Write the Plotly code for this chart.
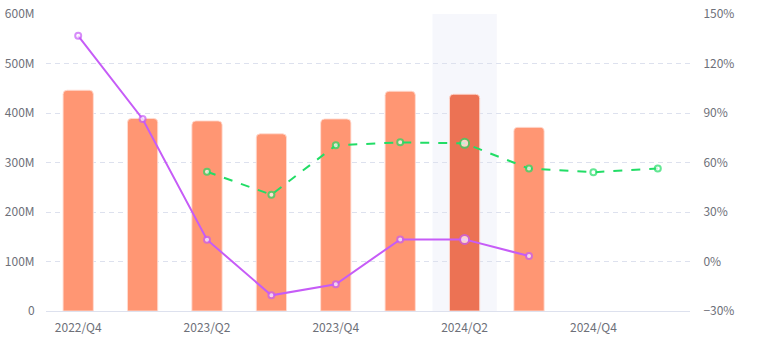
import plotly.graph_objects as go

# Quarterly revenue with year-over-year and quarter-over-quarter growth
quarters = ["2022/Q4", "2023/Q1", "2023/Q2", "2023/Q3", "2023/Q4",
            "2024/Q1", "2024/Q2", "2024/Q3", "2024/Q4", "2025/Q1"]
revenue = [446e6, 389e6, 384e6, 358e6, 388e6, 444e6, 438e6, 371e6, None, None]
growth_purple = [136.8, 86.4, 13.2, -20.5, -13.8, 13.4, 13.4, 3.3, None, None]
growth_green = [None, None, 54.4, 40.5, 70.4, 72.2, 71.6, 56.3, 54.1, 56.3]
tick_labels = ["2022/Q4", "2023/Q2", "2023/Q4", "2024/Q2", "2024/Q4"]
focus = "2024/Q2"

focus_idx = quarters.index(focus)
bar_base = "#FF9673"
bar_focus = "#EC7254"
purple = "#C65CF7"
green = "#22DD66"
axis_text = "#6E7079"
grid = "#DDE1EE"
font_family = "Noto Sans CJK SC, Noto Sans, sans-serif"

bar_colors = [bar_focus if q == focus else bar_base for q in quarters]
marker_sizes = [9 if q == focus else 6 for q in quarters]

fig = go.Figure()

fig.add_trace(go.Bar(
    x=quarters, y=revenue,
    marker=dict(color=bar_colors,
                line=dict(color="rgba(255,220,210,0.9)", width=1),
                cornerradius=4),
    yaxis="y", showlegend=False,
))

fig.add_trace(go.Scatter(
    x=quarters, y=growth_purple, yaxis="y2", mode="lines+markers",
    line=dict(color=purple, width=2),
    marker=dict(symbol="circle", size=marker_sizes, color="white",
                line=dict(color=purple, width=2)),
    connectgaps=False, showlegend=False,
))

fig.add_trace(go.Scatter(
    x=quarters, y=growth_green, yaxis="y2", mode="lines+markers",
    line=dict(color=green, width=2, dash="dash"),
    marker=dict(symbol="circle", size=marker_sizes, color="white",
                line=dict(color=green, width=2)),
    connectgaps=False, showlegend=False,
))

# Shaded band behind the focused quarter
fig.add_shape(
    type="rect", xref="x", yref="paper",
    x0=focus_idx - 0.5, x1=focus_idx + 0.5, y0=0, y1=1,
    fillcolor="rgba(150,170,220,0.09)", line=dict(width=0), layer="below",
)

fig.update_layout(
    width=766, height=343,
    margin=dict(l=46, r=76, t=14, b=32, autoexpand=False),
    paper_bgcolor="white", plot_bgcolor="white",
    font=dict(family=font_family, size=12, color=axis_text),
    bargap=0.53,
    xaxis=dict(
        type="category", categoryorder="array", categoryarray=quarters,
        range=[-0.5, len(quarters) - 0.5], automargin=False,
        tickmode="array", tickvals=tick_labels, ticktext=tick_labels,
        showgrid=False, showline=True, linecolor=grid, linewidth=1,
        ticks="outside", ticklen=6, tickcolor="rgba(0,0,0,0)",
        tickfont=dict(size=12, color=axis_text), zeroline=False,
    ),
    yaxis=dict(
        range=[0, 600e6], dtick=100e6, tickformat="~s", automargin=False,
        showgrid=True, gridcolor=grid, griddash="5px,4px", gridwidth=1,
        zeroline=False, showline=False,
        ticks="outside", ticklen=8, tickcolor="rgba(0,0,0,0)",
        tickfont=dict(size=12, color=axis_text),
    ),
    yaxis2=dict(
        overlaying="y", side="right", automargin=False,
        range=[-30, 150], dtick=30, ticksuffix="%",
        showgrid=False, zeroline=False, showline=False,
        ticks="outside", ticklen=10, tickcolor="rgba(0,0,0,0)",
        tickfont=dict(size=12, color=axis_text),
    ),
)

fig.write_html("out.html")
